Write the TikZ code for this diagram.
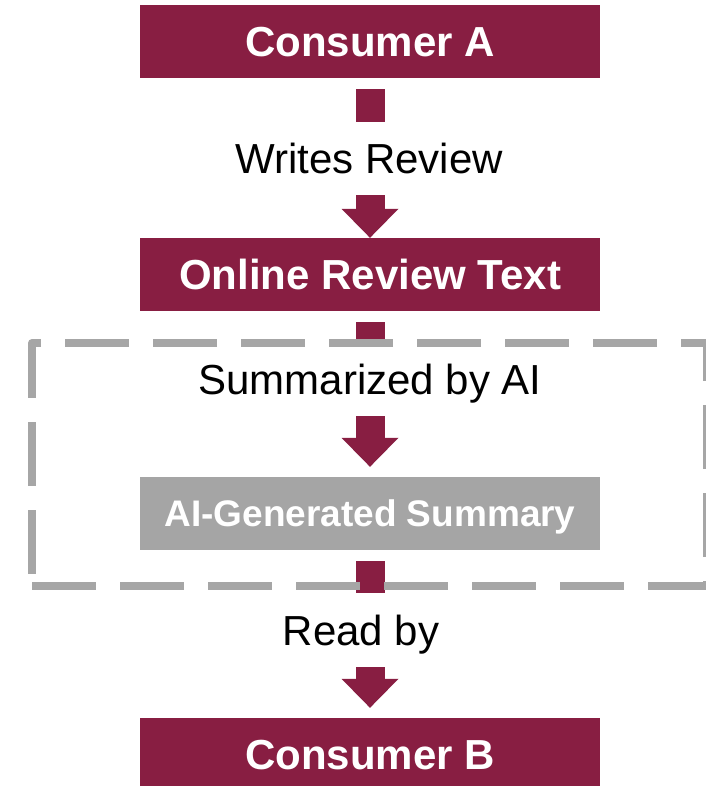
\documentclass[tikz,border=0pt]{standalone}
\usepackage{fontspec}
\setmainfont{Liberation Sans}
\usetikzlibrary{calc}
\definecolor{burgundy}{RGB}{136,30,66}
\definecolor{summarygray}{RGB}{165,165,165}
\definecolor{framegray}{RGB}{166,166,166}

\begin{document}
\begin{tikzpicture}[x=1pt,y=-1pt,
  stage/.style={fill=burgundy,text=white,font=\fontsize{42}{50}\selectfont\bfseries,
    minimum width=460pt,minimum height=73pt,inner sep=0pt,text height=30pt,text depth=0pt},
  steptext/.style={font=\fontsize{42}{50}\selectfont,minimum height=73pt,inner sep=0pt,
    text height=30pt,text depth=0pt},
  flow/.style={draw=burgundy,line width=29pt},
  head/.style={fill=burgundy}]

\useasboundingbox (0,0) rectangle (705,786);

%------------------------
% Stages
%------------------------
\node[stage] (consA) at (370,41.5) {Consumer A};
\node[stage] (review) at (370,274.5) {Online Review Text};
\node[stage,fill=summarygray,font=\fontsize{37}{44}\selectfont\bfseries,text height=26.5pt]
  (aisum) at (370,513.5) {AI-Generated Summary};
\node[stage] (consB) at (370,754.5) {Consumer B};

%------------------------
% Step texts
%------------------------
\node[steptext] (writes) at (369,158.5) {Writes Review};
\node[steptext] (summ) at (370,379.5) {Summarized by AI};
\node[steptext,minimum height=74pt] (readby) at (361,630) {Read by};

%------------------------
% Connectors
%------------------------
% Consumer A -> Online Review Text
\draw[flow] ([yshift=-11pt]consA.south) -- (consA.south |- writes.north);
\draw[flow] (consA.south |- writes.south) -- ([yshift=29pt]review.north);
\fill[head] (review.north) -- ++(-28.5,-29) -- ++(57,0) -- cycle;

% Online Review Text -> AI-Generated Summary
\coordinate (tip2) at ([yshift=10pt]aisum.north);
\draw[flow] ([yshift=-11pt]review.south) -- (summ.north);
\draw[flow] (summ.south) -- ([yshift=29pt]tip2);
\fill[head] (tip2) -- ++(-28.5,-29) -- ++(57,0) -- cycle;

% AI-Generated Summary -> Consumer B
\coordinate (tip3) at ([yshift=10pt]consB.north);
\draw[flow] ([yshift=-11pt]aisum.south) -- (aisum.south |- readby.north);
\draw[flow] (aisum.south |- readby.south) -- ([yshift=29pt]tip3);
\fill[head] (tip3) -- ++(-28.5,-29) -- ++(57,0) -- cycle;

%------------------------
% Dashed frame round the AI step
%------------------------
\draw[framegray,line width=8pt,dash pattern=on 64pt off 24pt,line join=round]
  (32,586) -- (707,586) -- (707,343) -- (32,343) -- cycle;

\end{tikzpicture}
\end{document}
